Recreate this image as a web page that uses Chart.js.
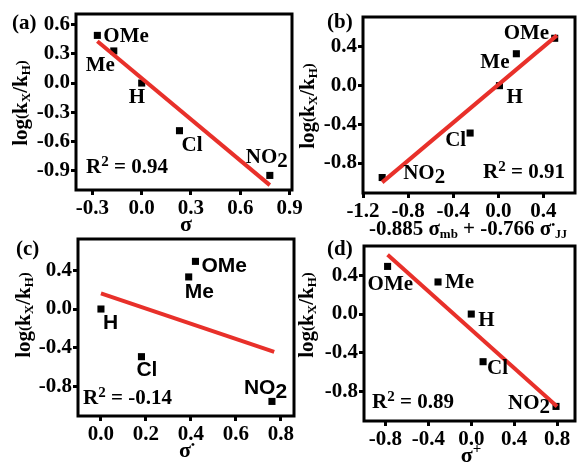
<!DOCTYPE html>
<html>
<head>
<meta charset="utf-8">
<script src="https://cdn.jsdelivr.net/npm/chart.js@4.4.0/dist/chart.umd.min.js"></script>
<style>
  body { margin: 0; background: #fff; }
  #wrap { position: relative; width: 577px; height: 462px; }
  #wrap canvas { position: absolute; left: 0; top: 0; }
</style>
</head>
<body>
<div id="wrap">
  <canvas id="chart-a" width="577" height="462"></canvas>
  <canvas id="chart-b" width="577" height="462"></canvas>
  <canvas id="chart-c" width="577" height="462"></canvas>
  <canvas id="chart-d" width="577" height="462"></canvas>
</div>
<script>
'use strict';

// ***** DATA *****
const substituents = ['OMe', 'Me', 'H', 'Cl', 'NO2'];
const logRatio = [0.49, 0.33, 0.0, -0.49, -0.95];

// substituent constants for each panel
const sigmaA = [-0.27, -0.17, 0.0, 0.23, 0.78];
const sigmaB = [0.5, 0.16, 0.01, -0.25, -1.03];
const sigmaC = [0.42, 0.39, 0.0, 0.18, 0.76];
const sigmaD = [-0.78, -0.31, 0.0, 0.11, 0.79];

// fitted lines (start, end)
const fitXA = [-0.27, 0.78];
const fitYA = [0.43, -1.05];
const fitXB = [-1.03, 0.52];
const fitYB = [-1.0, 0.52];
const fitXC = [0.0, 0.77];
const fitYC = [0.16, -0.44];
const fitXD = [-0.78, 0.8];
const fitYD = [0.61, -0.95];

const r2Values = ['0.94', '0.91', '-0.14', '0.89'];

const xTicksA = [-0.3, 0.0, 0.3, 0.6, 0.9];
const xTicksB = [-1.2, -0.8, -0.4, 0.0, 0.4];
const xTicksC = [0.0, 0.2, 0.4, 0.6, 0.8];
const xTicksD = [-0.8, -0.4, 0.0, 0.4, 0.8];
const yTicksA = [-0.9, -0.6, -0.3, 0.0, 0.3, 0.6];
const yTicksBCD = [-0.8, -0.4, 0.0, 0.4];

// ***** STYLE *****
const SERIF = '"Liberation Serif", "DejaVu Serif", serif';
const SANS = '"Liberation Sans", Arial, sans-serif';
const RED = '#e8302a';
const Y_AXIS_W = 60;
const X_AXIS_H = 30;

// draw a run of text pieces (for sub/superscripts)
function drawParts(ctx, parts, x, y, align, family) {
  let total = 0;
  parts.forEach(p => {
    ctx.font = `bold ${p.size}px ${p.family || family}`;
    p.w = ctx.measureText(p.t).width;
    total += p.w;
  });
  let cx = align === 'center' ? x - total / 2 : x;
  ctx.textAlign = 'left';
  ctx.textBaseline = 'middle';
  parts.forEach(p => {
    ctx.font = `bold ${p.size}px ${p.family || family}`;
    ctx.fillText(p.t, cx, y + (p.dy || 0));
    cx += p.w;
  });
}

function yTitleParts() {
  return [
    { t: 'log', size: 21 }, { t: '(', size: 15 }, { t: 'k', size: 21 },
    { t: 'X', size: 13, dy: 5 }, { t: '/', size: 21 }, { t: 'k', size: 21 },
    { t: 'H', size: 13, dy: 5 }, { t: ')', size: 15 }
  ];
}

const panelPlugin = {
  id: 'panel',
  afterDatasetsDraw(chart, args, opts) {
    const ctx = chart.ctx;
    const area = chart.chartArea;
    const xs = chart.scales.x;
    const ys = chart.scales.y;
    ctx.save();
    ctx.strokeStyle = '#000';
    ctx.lineWidth = 3;
    ctx.strokeRect(area.left, area.top, area.right - area.left, area.bottom - area.top);

    ctx.fillStyle = '#000';
    opts.names.forEach((name, i) => {
      const px = xs.getPixelForValue(opts.xVals[i]);
      const py = ys.getPixelForValue(opts.yVals[i]);
      const off = opts.offsets[i];
      let parts = [{ t: name, size: 21 }];
      if (name === 'NO2') parts = [{ t: 'NO', size: 21 }, { t: '2', size: 21, dy: 4 }];
      drawParts(ctx, parts, px + off[0], py + off[1], 'left', opts.labelFamily);
    });

    drawParts(ctx, [
      { t: 'R', size: 21 }, { t: '2', size: 15, dy: -6 }, { t: ' = ' + opts.r2, size: 21 }
    ], area.left + opts.r2Pos[0], area.bottom + opts.r2Pos[1], 'left', SERIF);

    drawParts(ctx, [{ t: opts.letter, size: 21 }], opts.letterPos[0], opts.letterPos[1], 'left', SERIF);

    drawParts(ctx, opts.xTitle, opts.xTitlePos[0], opts.xTitlePos[1], 'center', SERIF);

    ctx.translate(opts.yTitlePos[0], opts.yTitlePos[1]);
    ctx.rotate(-Math.PI / 2);
    drawParts(ctx, yTitleParts(), 0, 0, 'center', SERIF);
    ctx.restore();
  }
};

function makePanel(id, cfg) {
  const ctx = document.getElementById(id).getContext('2d');
  const points = cfg.xVals.map((x, i) => ({ x: x, y: logRatio[i] }));
  const fit = cfg.fitX.map((x, i) => ({ x: x, y: cfg.fitY[i] }));
  const tickFont = { family: SERIF, size: 21, weight: 'bold' };

  let myChart = new Chart(ctx, { //eslint-disable-line
    type: 'scatter',
    data: {
      datasets: [{
        type: 'line',
        data: fit,
        borderColor: RED,
        borderWidth: 4,
        pointRadius: 0,
        fill: false,
        order: 0
      },
      {
        data: points,
        pointStyle: 'rect',
        pointRadius: 5,
        backgroundColor: '#000',
        borderColor: '#000',
        borderWidth: 0,
        order: 1
      }]
    },
    options: {
      responsive: false,
      animation: false,
      devicePixelRatio: 1,
      layout: {
        autoPadding: false,
        padding: {
          left: cfg.area.l - Y_AXIS_W,
          top: cfg.area.t,
          right: 577 - cfg.area.r,
          bottom: 462 - cfg.area.b - X_AXIS_H
        }
      },
      plugins: {
        legend: { display: false },
        tooltip: { enabled: false },
        panel: {
          names: substituents,
          xVals: cfg.xVals,
          yVals: logRatio,
          offsets: cfg.offsets,
          labelFamily: cfg.labelFamily,
          r2: cfg.r2,
          r2Pos: cfg.r2Pos,
          letter: cfg.letter,
          letterPos: cfg.letterPos,
          xTitle: cfg.xTitle,
          xTitlePos: cfg.xTitlePos,
          yTitlePos: cfg.yTitlePos
        }
      },
      scales: {
        x: {
          type: 'linear',
          min: cfg.xMin,
          max: cfg.xMax,
          afterBuildTicks: s => { s.ticks = cfg.xTicks.map(v => ({ value: v })); },
          afterFit: s => {
            s.height = X_AXIS_H;
            s.paddingLeft = 0; s.paddingRight = 0;
          },
          border: { display: false },
          grid: {
            drawOnChartArea: false,
            drawTicks: true,
            tickLength: 5,
            tickWidth: 3,
            tickColor: '#000'
          },
          ticks: {
            color: '#000',
            font: tickFont,
            padding: 1,
            maxRotation: 0,
            autoSkip: false,
            callback: v => v.toFixed(1)
          }
        },
        y: {
          type: 'linear',
          min: cfg.yMin,
          max: cfg.yMax,
          afterBuildTicks: s => { s.ticks = cfg.yTicks.map(v => ({ value: v })); },
          afterFit: s => {
            s.width = Y_AXIS_W;
            s.paddingTop = 0; s.paddingBottom = 0;
          },
          border: { display: false },
          grid: {
            drawOnChartArea: false,
            drawTicks: true,
            tickLength: 5,
            tickWidth: 3,
            tickColor: '#000'
          },
          ticks: {
            color: '#000',
            font: tickFont,
            padding: 1,
            autoSkip: false,
            callback: v => v.toFixed(1)
          }
        }
      }
    },
    plugins: [panelPlugin]
  });
}

// ***** PANELS *****
makePanel('chart-a', {
  area: { l: 76, t: 14, r: 292, b: 190 },
  xMin: -0.4, xMax: 0.915, yMin: -1.1, yMax: 0.71,
  xTicks: xTicksA, yTicks: yTicksA,
  xVals: sigmaA, fitX: fitXA, fitY: fitYA,
  offsets: [[6, 1], [-28, 15], [-13, 15], [2, 15], [-24, -18]],
  labelFamily: SERIF,
  r2: r2Values[0], r2Pos: [10, -22],
  letter: '(a)', letterPos: [12, 24],
  xTitle: [{ t: 'σ', size: 22 }], xTitlePos: [186, 225],
  yTitlePos: [22, 103]
});

makePanel('chart-b', {
  area: { l: 363, t: 17, r: 575, b: 193 },
  xMin: -1.2, xMax: 0.68, yMin: -1.11, yMax: 0.71,
  xTicks: xTicksB, yTicks: yTicksBCD,
  xVals: sigmaB, fitX: fitXB, fitY: fitYB,
  offsets: [[-51, -5], [-36, 9], [7, 12], [-25, 8], [21, -4]],
  labelFamily: SERIF,
  r2: r2Values[1], r2Pos: [120, -20],
  letter: '(b)', letterPos: [327, 23],
  xTitle: [
    { t: '-0.885 σ', size: 21 }, { t: 'mb', size: 13, dy: 5 },
    { t: ' + -0.766 σ', size: 21 }, { t: '•', size: 11, dy: -5 },
    { t: 'JJ', size: 12, dy: 5 }
  ],
  xTitlePos: [468, 230],
  yTitlePos: [309, 106]
});

makePanel('chart-c', {
  area: { l: 78, t: 239, r: 294, b: 416 },
  xMin: -0.102, xMax: 0.858, yMin: -1.1, yMax: 0.72,
  xTicks: xTicksC, yTicks: yTicksBCD,
  xVals: sigmaC, fitX: fitXC, fitY: fitYC,
  offsets: [[6, 5], [-4, 15], [2, 14], [-5, 14], [-28, -13]],
  labelFamily: SANS,
  r2: r2Values[2], r2Pos: [5, -17],
  letter: '(c)', letterPos: [16, 250],
  xTitle: [{ t: 'σ', size: 22 }, { t: '•', size: 11, dy: -6 }], xTitlePos: [187, 451],
  yTitlePos: [25, 315]
});

makePanel('chart-d', {
  area: { l: 364, t: 246, r: 575, b: 421 },
  xMin: -1.0, xMax: 0.967, yMin: -1.1, yMax: 0.70,
  xTicks: xTicksD, yTicks: yTicksBCD,
  xVals: sigmaD, fitX: fitXD, fitY: fitYD,
  offsets: [[-20, 18], [7, 1], [7, 7], [4, 7], [-48, -3]],
  labelFamily: SERIF,
  r2: r2Values[3], r2Pos: [8, -18],
  letter: '(d)', letterPos: [327, 250],
  xTitle: [{ t: 'σ', size: 22 }, { t: '+', size: 15, dy: -7 }], xTitlePos: [471, 456],
  yTitlePos: [308, 315]
});
</script>
</body>
</html>
